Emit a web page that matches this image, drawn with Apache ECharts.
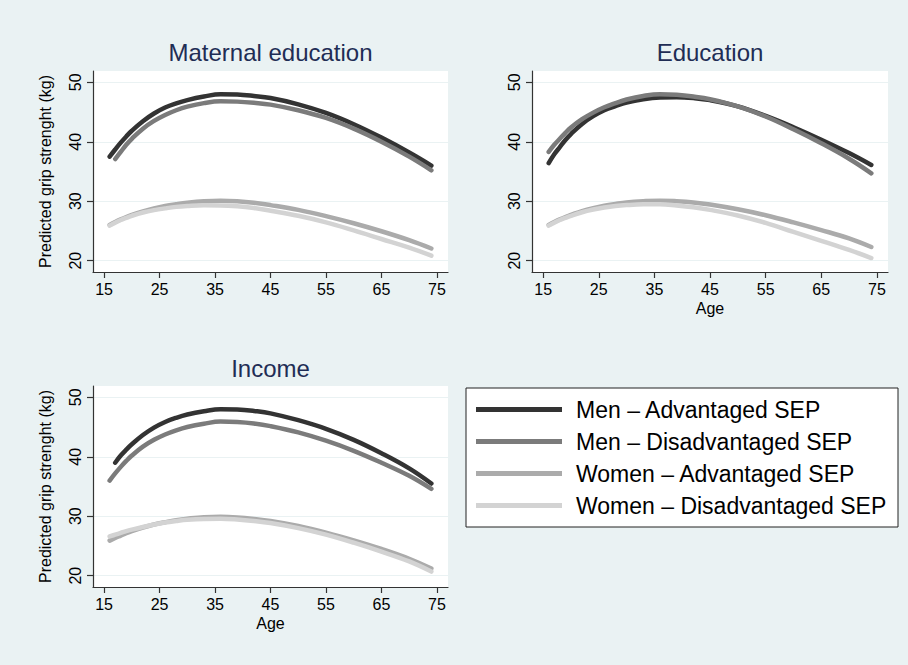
<!DOCTYPE html>
<html>
<head>
<meta charset="utf-8">
<script src="https://cdn.jsdelivr.net/npm/echarts@6/dist/echarts.min.js"></script>
<style>
html,body{margin:0;padding:0;background:#eaf2f3;}
#chart{width:908px;height:665px;}
</style>
</head>
<body>
<div id="chart"></div>
<script>
// ---- data ----
const ages = [16, 17, 18, 19, 20, 22, 24, 26, 28, 30, 33, 36, 39, 42, 45, 50, 55, 60, 65, 70, 74];
const seriesNames = ['Men – Advantaged SEP', 'Men – Disadvantaged SEP', 'Women – Advantaged SEP', 'Women – Disadvantaged SEP'];
const panelTitles = ['Maternal education', 'Education', 'Income'];
const xTicks = [15, 25, 35, 45, 55, 65, 75];
const yTicks = [20, 30, 40, 50];

// Maternal education
const matMenAdv = [37.5, 38.7, 39.85, 40.9, 41.85, 43.45, 44.75, 45.75, 46.45, 47.0, 47.6, 48.0, 47.95, 47.7, 47.35, 46.3, 44.85, 42.95, 40.7, 38.2, 36.0];
const matMenDis = [null, 37.1, 38.3, 39.5, 40.5, 42.2, 43.5, 44.5, 45.3, 45.9, 46.5, 46.8, 46.75, 46.55, 46.25, 45.3, 44.0, 42.2, 40.0, 37.5, 35.2];
const matWomAdv = [26.0, 26.5, 26.95, 27.35, 27.7, 28.3, 28.8, 29.2, 29.5, 29.75, 30.0, 30.1, 30.0, 29.75, 29.35, 28.55, 27.5, 26.3, 24.95, 23.45, 22.05];
const matWomDis = [25.9, 26.4, 26.85, 27.2, 27.55, 28.1, 28.5, 28.8, 29.05, 29.2, 29.32, 29.3, 29.15, 28.85, 28.4, 27.55, 26.45, 25.1, 23.65, 22.2, 20.85];
// Education
const eduMenAdv = [36.4, 37.9, 39.1, 40.3, 41.3, 43.0, 44.3, 45.3, 46.0, 46.6, 47.15, 47.45, 47.5, 47.35, 47.0, 45.95, 44.35, 42.45, 40.35, 38.1, 36.1];
const eduMenDis = [38.3, 39.5, 40.5, 41.5, 42.4, 43.8, 44.9, 45.8, 46.5, 47.1, 47.7, 48.0, 47.9, 47.6, 47.15, 45.95, 44.25, 42.1, 39.75, 37.15, 34.7];
const eduWomAdv = [26.0, 26.5, 26.95, 27.35, 27.7, 28.35, 28.85, 29.25, 29.55, 29.8, 30.0, 30.1, 30.0, 29.8, 29.45, 28.65, 27.65, 26.45, 25.15, 23.75, 22.3];
const eduWomDis = [25.9, 26.4, 26.85, 27.2, 27.55, 28.15, 28.6, 28.95, 29.2, 29.35, 29.48, 29.5, 29.3, 29.0, 28.55, 27.6, 26.35, 24.85, 23.35, 21.8, 20.45];
// Income
const incMenAdv = [null, 39.0, 40.2, 41.2, 42.1, 43.65, 44.9, 45.85, 46.55, 47.1, 47.65, 48.0, 47.95, 47.7, 47.3, 46.15, 44.7, 42.85, 40.6, 38.05, 35.5];
const incMenDis = [36.0, 37.2, 38.3, 39.3, 40.2, 41.7, 42.85, 43.75, 44.45, 45.0, 45.55, 45.92, 45.85, 45.6, 45.15, 44.1, 42.7, 41.0, 39.0, 36.8, 34.6];
const incWomAdv = [25.9, 26.35, 26.75, 27.15, 27.5, 28.1, 28.6, 29.0, 29.35, 29.6, 29.85, 29.9, 29.8, 29.55, 29.2, 28.35, 27.25, 25.95, 24.5, 22.85, 21.2];
const incWomDis = [26.6, 26.9, 27.2, 27.5, 27.75, 28.2, 28.6, 28.95, 29.2, 29.4, 29.55, 29.58, 29.45, 29.2, 28.85, 28.0, 26.9, 25.55, 24.05, 22.4, 20.7];

const panels = [
  [matMenAdv, matMenDis, matWomAdv, matWomDis],
  [eduMenAdv, eduMenDis, eduWomAdv, eduWomDis],
  [incMenAdv, incMenDis, incWomAdv, incWomDis]
];

// ---- styling ----
const FONT = 'Liberation Sans, Arial, Helvetica, sans-serif';
const colors = ['#333333', '#7b7b7b', '#ababab', '#d3d3d3'];
const grids = [
  { left: 93, top: 71, width: 355, height: 201 },
  { left: 532, top: 71, width: 356, height: 201 },
  { left: 93, top: 386, width: 355, height: 201 }
];
const showYName = [true, false, true];
const showXName = [false, true, true];

function toPairs(vals) {
  const out = [];
  vals.forEach((v, i) => { if (v !== null) out.push([ages[i], v]); });
  return out;
}

const option = {
  backgroundColor: '#eaf2f3',
  animation: false,
  textStyle: { fontFamily: FONT },
  grid: grids.map(g => Object.assign({ show: true, backgroundColor: '#ffffff', borderWidth: 0 }, g)),
  xAxis: grids.map((g, i) => ({
    type: 'value', gridIndex: i, min: 13, max: 77,
    name: showXName[i] ? 'Age' : '',
    nameLocation: 'middle', nameGap: 28,
    nameTextStyle: { fontSize: 16, color: '#000', fontFamily: FONT },
    axisLine: { show: true, lineStyle: { color: '#333', width: 1.2 } },
    axisTick: { show: true, inside: false, length: 6, customValues: xTicks, lineStyle: { color: '#333', width: 1.2 } },
    axisLabel: { customValues: xTicks, fontSize: 16, color: '#000', margin: 9, fontFamily: FONT },
    splitLine: { show: false }
  })),
  yAxis: grids.map((g, i) => ({
    type: 'value', gridIndex: i, min: 18.1, max: 51.9,
    name: showYName[i] ? 'Predicted grip strenght (kg)' : '',
    nameLocation: 'middle', nameGap: 40, nameRotate: 90,
    nameTextStyle: { fontSize: 16, color: '#000', fontFamily: FONT },
    axisLine: { show: true, lineStyle: { color: '#333', width: 1.2 } },
    axisTick: { show: true, inside: false, length: 6, customValues: yTicks, lineStyle: { color: '#333', width: 1.2 } },
    axisLabel: { customValues: yTicks, rotate: 90, fontSize: 16, color: '#000', margin: 10, fontFamily: FONT },
    splitLine: { show: true, lineStyle: { color: '#eaf2f3', width: 1 } }
  })),
  legend: {
    show: true,
    data: seriesNames,
    orient: 'vertical',
    left: 476, top: 398, padding: 0,
    itemWidth: 86, itemHeight: 5, itemGap: 9,
    icon: 'rect',
    selectedMode: false,
    textStyle: { fontSize: 23, color: '#000', fontFamily: FONT, lineHeight: 23, padding: [0, 0, 0, 9] }
  },
  graphic: [
    { type: 'rect', shape: { x: 466, y: 388, width: 432, height: 139 }, style: { fill: '#ffffff', stroke: '#222', lineWidth: 1 }, z: 0, silent: true },
    { type: 'text', x: 270.5, y: 52.5, style: { text: panelTitles[0], textAlign: 'center', textVerticalAlign: 'middle', font: '24px ' + FONT, fill: '#1f2d55' } },
    { type: 'text', x: 710, y: 52.5, style: { text: panelTitles[1], textAlign: 'center', textVerticalAlign: 'middle', font: '24px ' + FONT, fill: '#1f2d55' } },
    { type: 'text', x: 270.5, y: 368, style: { text: panelTitles[2], textAlign: 'center', textVerticalAlign: 'middle', font: '24px ' + FONT, fill: '#1f2d55' } }
  ],
  series: []
};

panels.forEach((panel, p) => {
  panel.forEach((vals, s) => {
    option.series.push({
      type: 'line',
      name: seriesNames[s],
      xAxisIndex: p, yAxisIndex: p,
      data: toPairs(vals),
      smooth: 0.4,
      showSymbol: false,
      symbol: 'none',
      color: colors[s],
      lineStyle: { color: colors[s], width: 4.5, cap: 'round' },
      itemStyle: { color: colors[s] },
      z: 2 + s
    });
  });
});

const chart = echarts.init(document.getElementById('chart'), null, { renderer: 'svg' });
chart.setOption(option);
</script>
</body>
</html>
